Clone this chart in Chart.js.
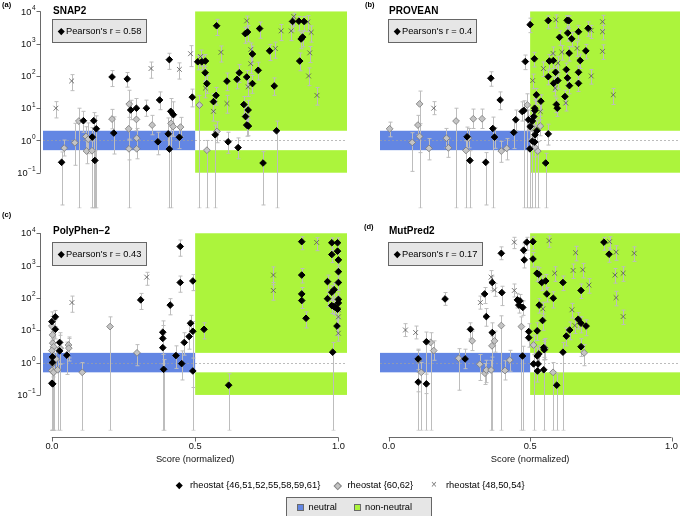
<!DOCTYPE html>
<html>
<head>
<meta charset="utf-8">
<script src="https://cdn.jsdelivr.net/npm/chart.js@4.4.1/dist/chart.umd.min.js"></script>
<style>
  html, body { margin: 0; padding: 0; background: #fff; }
  #page { position: relative; width: 685px; height: 516px; overflow: hidden; font-family: "Liberation Sans", Arial, Helvetica, sans-serif; color: #000; }
  #page canvas { position: absolute; left: 0; top: 0; }
  .abs { position: absolute; white-space: nowrap; }
  .tag { font-size: 7.5px; font-weight: bold; line-height: 10px; }
  .title { font-size: 10px; font-weight: bold; line-height: 12px; }
  .rbox { background: #e6e6e6; border: 1px solid #666; box-sizing: border-box; height: 24px; font-size: 9.3px; line-height: 22px; padding-left: 13px; }
  .dia { position: absolute; width: 4.5px; height: 4.5px; transform: rotate(45deg); }
  .leg { font-size: 9.3px; line-height: 12px; }
  .sq { position: absolute; width: 7px; height: 7px; border: 1px solid #6a6a6a; box-sizing: border-box; }
</style>
</head>
<body>
<div id="page">
  <canvas id="chart-a" width="685" height="516"></canvas>
  <canvas id="chart-b" width="685" height="516"></canvas>
  <canvas id="chart-c" width="685" height="516"></canvas>
  <canvas id="chart-d" width="685" height="516"></canvas>
  <div id="overlay"></div>
</div>
<script>
// ---- data (score normalized, fold change, lower, upper) ----
const SERIES_LABELS = ['rheostat {46,51,52,55,58,59,61}', 'rheostat {60,62}', 'rheostat {48,50,54}'];
const ZONE_LABELS = ['neutral', 'non-neutral'];
const PANEL_TAGS = ['(a)', '(b)', '(c)', '(d)'];
const PANEL_TITLES = ['SNAP2', 'PROVEAN', 'PolyPhen\u22122', 'MutPred2'];
const PEARSON_R = ['0.58', '0.4', '0.43', '0.17'];
const X_TICKS = [0, 0.5, 1];
const X_TICK_LABELS = ['0.0', '0.5', '1.0'];
const Y_TICK_EXPONENTS = [-1, 0, 1, 2, 3, 4];
const X_TITLE = 'Score (normalized)';

const THRESHOLD = 0.5;
const NEUTRAL_BAND = [0.5, 2];
const NON_NEUTRAL_HIGH = [2, 10000];
const NON_NEUTRAL_LOW = [0.1, 0.5];

const snap2Rheo46 = [
  [0.034,0.21,0.01,0.44],[0.11,4.1,1.8,8],[0.141,1.27,0.008,2.5],[0.146,4.1,0.008,7.3],[0.15,0.24,0.008,0.48],
  [0.155,2.3,0.008,5.8],[0.21,93,47,147],[0.216,1.7,0.38,5.4],[0.263,81,45,128],[0.275,8.8,4.4,17.6],
  [0.295,10,5,20],[0.33,10,5.6,17.8],[0.37,0.91,0.36,1.8],[0.376,18,9,32],[0.41,320,160,505],
  [0.406,1.6,0.5,5],[0.41,0.54,0.008,1.35],[0.415,8,0.008,20],[0.424,6.3,2.5,15.8],[0.445,1.26,0.56,2.5],
  [0.49,22,11,39],[0.509,275,155,435],[0.523,275,155,435],[0.536,290,163,460],[0.535,126,71,200],
  [0.541,58,29,103],[0.564,16,8,28],[0.573,25,12.5,44],[0.575,3600,1800,5700],[0.57,1.5,0.008,3],
  [0.611,69,35,123],[0.615,0.91,0.4,1.8],[0.646,79,40,140],[0.654,126,63,224],[0.65,0.6,0.27,1.2],
  [0.67,13,6.5,23],[0.676,5.5,2.5,11],[0.68,3.0,1.35,6],[0.686,2.8,1.4,5.6],[0.685,8.8,4.4,17.6],
  [0.68,93,47,147],[0.675,2050,1030,3250],[0.683,2300,1150,3650],[0.7,480,240,850],[0.7,58,29,103],
  [0.72,150,75,267],[0.725,2950,1480,4680],[0.737,0.2,0.01,0.45],[0.76,600,300,950],[0.776,49,25,87],
  [0.784,2.0,0.008,4],[0.84,4900,2450,6900],[0.862,5000,2500,7000],[0.88,4900,2450,6900],[0.865,290,145,515],
  [0.87,1400,700,2200],[0.875,1600,800,2500]
];
const snap2Rheo60 = [
  [0.043,0.58,0.33,1.03],[0.08,0.85,0.17,3.4],[0.094,4,0.008,10],[0.119,1.33,0.53,2.66],[0.127,1.1,0.39,3.5],
  [0.121,0.47,0.19,0.94],[0.14,0.48,0.008,0.96],[0.21,4.6,2.3,9.2],[0.27,13.4,0.008,36],[0.268,2.3,1.03,5.2],
  [0.269,0.55,0.25,1.1],[0.295,4.5,2,9],[0.296,1.18,0.53,2.36],[0.296,0.55,0.27,1.1],[0.35,3.0,1.5,6],
  [0.416,3.4,1.5,6.8],[0.423,2.7,1.35,5.4],[0.449,2.6,1.3,5.2],[0.515,12.5,0.008,25],[0.541,0.5,0.008,1],
  [0.576,1.9,0.85,3.8]
];
const snap2Rheo48 = [
  [0.014,10,5,16],[0.069,70,35,110],[0.346,170,85,270],[0.445,160,80,255],[0.484,490,195,870],
  [0.519,400,200,635],[0.536,42,21,67],[0.564,8,4,16],[0.59,540,270,850],[0.611,14,7,25],
  [0.68,5100,2550,7200],[0.694,660,330,1050],[0.694,240,120,380],[0.685,46,23,82],[0.78,710,355,1120],
  [0.8,2500,1250,3950],[0.835,2500,1250,3950],[0.844,7000,3500,8800],[0.893,4700,2350,7450],[0.9,520,260,820],
  [0.905,2250,1120,3550],[0.896,100,50,178],[0.925,25,12.5,44]
];

const proveanRheo46 = [
  [0.5,3900,2200,6200],[0.564,5200,2900,7300],[0.631,5300,3000,7500],[0.637,5200,2900,7300],[0.483,280,157,445],
  [0.515,340,190,540],[0.361,85,48,135],[0.394,18,9,32],[0.604,1580,890,2500],[0.633,2150,1200,3400],
  [0.647,1420,800,2250],[0.671,2350,1320,3700],[0.705,3000,1700,4750],[0.638,510,290,810],[0.697,600,340,950],
  [0.677,300,170,475],[0.568,290,163,460],[0.582,300,170,475],[0.59,130,73,205],[0.564,95,53,150],
  [0.583,59,33,93],[0.598,72,40,114],[0.628,158,89,250],[0.632,87,49,138],[0.639,50,28,79],
  [0.671,130,73,205],[0.671,59,33,93],[0.623,23,13,36],[0.593,13,7.3,20.6],[0.596,10,5.6,15.8],
  [0.522,26,13,41],[0.538,16.5,8.3,26],[0.478,8.5,0.008,17],[0.472,7.9,4,15.8],[0.449,4.4,2,8.8],
  [0.516,10,5,20],[0.517,8.5,4.3,17],[0.513,5.5,2.8,11],[0.508,4,2,8],[0.494,4.4,2,8.8],
  [0.368,2.35,0.008,5.3],[0.374,1.27,0.57,2.5],[0.442,1.78,0.56,4.5],[0.277,1.3,0.52,2.6],[0.287,0.24,0.008,0.48],
  [0.343,0.21,0.01,0.42],[0.499,0.55,0.008,1.1],[0.508,0.95,0.008,1.9],[0.516,0.89,0.008,1.8],[0.517,1.5,0.6,3],
  [0.564,1.6,0.72,3.2],[0.555,0.2,0.008,0.4],[0.5,2.7,0.008,6],[0.524,2.0,0.9,4]
];
const proveanRheo60 = [
  [0.003,2.3,1.3,3.7],[0.109,13.6,0.008,34],[0.103,3.0,1.5,6],[0.109,1.33,0.42,3.3],[0.083,0.87,0.11,1.74],
  [0.142,0.57,0.25,1.14],[0.204,1.18,0.59,2.36],[0.211,0.59,0.3,1.18],[0.238,4.0,0.008,10],[0.273,0.49,0.008,0.98],
  [0.282,1.18,0.59,2.36],[0.299,4.7,2.35,9.4],[0.33,4.7,2.35,9.4],[0.398,0.47,0.21,0.94],[0.417,0.57,0.25,1.14],
  [0.49,12.6,0.008,28],[0.506,2.6,1.3,5.2],[0.527,0.47,0.008,0.94],[0.536,2.8,1.4,5.6],[0.517,0.62,0.31,1.24]
];
const proveanRheo48 = [
  [0.159,10,6.3,16],[0.591,5500,3100,7800],[0.631,5200,2900,7300],[0.716,2600,1460,3700],[0.756,4800,2700,7600],
  [0.756,2350,1320,3700],[0.756,580,326,920],[0.666,720,405,1140],[0.581,500,280,790],[0.612,550,310,870],
  [0.598,250,140,395],[0.547,170,96,270],[0.509,72,40,114],[0.589,42,24,67],[0.716,100,56,158],
  [0.794,26,13,41],[0.626,14.5,8.2,23],[0.536,7.9,4.4,12.5]
];

const polyphenRheo46 = [
  [0.012,26,13,41],[0.0,18.5,9.3,37],[0.012,10.7,5.4,21],[0.027,4.2,0.008,8.4],[0.027,2.3,0.92,4.6],
  [0.002,1.5,0.008,3],[0.002,1.0,0.008,2],[0.0,0.23,0.008,0.46],[0.003,0.22,0.008,0.44],[0.052,1.7,0.43,4.3],
  [0.31,87,44,138],[0.413,60,30,95],[0.448,3900,1950,6200],[0.448,300,150,475],[0.492,335,168,530],
  [0.387,8.7,0.008,19.5],[0.387,5.6,1.8,14],[0.387,2.9,0.92,7.3],[0.39,0.62,0.008,1.24],[0.433,1.65,0.66,3.3],
  [0.453,0.93,0.29,2.3],[0.462,4.2,1.7,8.4],[0.479,6.4,2.6,14.3],[0.484,16.5,8.3,29],[0.492,9.3,0.008,18.6],
  [0.492,0.55,0.17,1.38],[0.531,10.7,5.4,17],[0.617,0.2,0.008,0.45],[0.872,5500,3100,7800],[0.872,510,290,810],
  [0.872,133,75,210],[0.872,83,47,131],[0.887,23.5,11.8,37],[0.977,5100,2870,7200],[0.997,5100,2870,7200],
  [0.977,2200,1240,3500],[0.997,2800,1580,4400],[1.0,1500,845,2370],[1.0,650,365,1030],[0.962,320,180,505],
  [1.0,300,170,475],[0.962,95,53,150],[0.977,150,84,237],[0.985,180,101,285],[0.977,58,33,92],
  [0.984,55,31,87],[0.99,50,28,79],[1.0,90,51,142],[1.0,70,39,111],[0.997,45,25,71],
  [0.995,13.5,6.8,21],[0.98,2.1,0.008,4.2]
];
const polyphenRheo60 = [
  [0.0,13.5,5.4,27],[0.002,7.2,2.9,14.4],[0.003,4.0,0.008,8],[0.006,3.1,1.24,6.2],[0.0,2.35,0.008,4.7],
  [0.003,1.36,0.008,2.7],[0.003,0.91,0.36,1.82],[0.0,0.57,0.008,1.14],[0.006,0.5,0.008,1],[0.015,1.3,0.52,2.6],
  [0.02,0.6,0.008,1.2],[0.029,2.8,0.89,7],[0.058,3.5,1.4,6.2],[0.059,2.8,1.12,5.6],[0.106,0.5,0.008,1],
  [0.203,13,0.008,26],[0.297,2.0,0.8,3.6]
];
const polyphenRheo48 = [
  [0.07,72,36,114],[0.331,440,246,620],[0.773,510,255,910],[0.773,170,85,300],[0.924,5200,2900,7300],
  [1.0,43,24,68],[1.0,26,14.6,41],[1.0,8.1,4.6,12.8]
];

const mutpredRheo46 = [
  [0.104,1.3,0.008,2.6],[0.104,0.25,0.125,0.5],[0.133,4.4,0.008,8.8],[0.133,0.22,0.11,0.44],[0.199,93,59,147],
  [0.27,1.3,0.65,2.6],[0.289,10.7,5.4,17],[0.339,133,67,210],[0.345,26.5,13.3,47],[0.366,8.5,0.008,17],
  [0.366,300,168,475],[0.398,2400,1520,3800],[0.4,146,58,230],[0.473,1.6,0.008,3.2],[0.477,3000,1690,4750],
  [0.479,1500,845,2370],[0.488,5300,3000,7500],[0.51,5500,3100,7800],[0.51,1600,900,2530],[0.455,87,49,138],
  [0.464,81,46,128],[0.46,60,34,95],[0.474,51,29,81],[0.495,9.1,4.6,16],[0.495,5.9,3,10.5],
  [0.524,580,326,920],[0.53,540,304,855],[0.541,300,169,475],[0.555,335,188,530],[0.559,133,75,210],
  [0.532,60,34,95],[0.544,20,10,32],[0.525,9.6,4.8,17],[0.548,2.9,1.45,5.2],[0.55,2.5,1.25,4.5],
  [0.531,1.85,0.93,3.3],[0.525,1.6,0.8,2.85],[0.512,0.91,0.008,1.82],[0.528,0.91,0.46,1.62],[0.526,0.55,0.25,1.1],
  [0.548,0.6,0.008,1.2],[0.594,0.2,0.008,0.45],[0.582,98,49,155],[0.616,300,169,475],[0.68,170,96,270],
  [0.68,3.1,1.55,5.5],[0.628,6.6,3.3,11.7],[0.64,10.2,5.1,18],[0.67,22,11,35],[0.68,16.5,8.3,26],
  [0.698,13.5,6.8,21],[0.616,2.1,0.008,4.2],[0.761,5300,3000,7500],[0.779,2250,1270,3560]
];
const mutpredRheo60 = [
  [0.105,1.2,0.6,2.4],[0.115,0.5,0.008,1],[0.148,4.2,0.008,8.4],[0.159,2.35,1.18,4.7],[0.247,1.36,0.14,2.7],
  [0.295,4.7,2.35,9.4],[0.322,0.89,0.28,1.78],[0.34,0.47,0.21,0.94],[0.345,0.59,0.24,1.18],[0.362,0.59,0.008,1.18],
  [0.365,3.3,1.48,6.6],[0.374,4.7,2.1,9.4],[0.398,14,0.008,28],[0.411,0.57,0.29,1.14],[0.428,1.2,0.54,2.4],
  [0.469,13,0.008,26],[0.512,3.5,1.75,7],[0.552,2.8,1.25,5.6],[0.581,0.5,0.008,1],[0.691,2.0,0.8,3.6]
];
const mutpredRheo48 = [
  [0.059,10.2,6.4,16],[0.095,8.5,5.4,13.5],[0.324,72,45,114],[0.362,440,278,700],[0.374,177,112,280],
  [0.444,5300,3350,7500],[0.444,170,107,270],[0.567,5900,3700,8300],[0.587,580,326,920],[0.545,46,26,73],
  [0.652,710,400,1120],[0.686,740,416,1170],[0.661,2500,1400,3950],[0.708,250,140,395],[0.648,43,24,68],
  [0.658,14,7.9,22],[0.781,5500,3100,7800],[0.804,2600,1460,4100],[0.8,510,287,810],[0.829,580,326,920],
  [0.804,102,57,161],[0.829,26.5,15,42],[0.868,2400,1350,3800]
];

// ---- layout / style ----
const W = 685, H = 516;
const BLUE = '#6386e3';
const GREEN = '#acf43c';

const panels = [
  { id: 'chart-a', area: { left: 43, top: 4.5, right: 347, bottom: 208.2 }, series: [snap2Rheo46, snap2Rheo60, snap2Rheo48], yAxis: true, xAxis: false,
    tag: [2, 0], title: [53, 5], box: [52, 19, 95] },
  { id: 'chart-b', area: { left: 380, top: 4.5, right: 685, bottom: 208.2 }, series: [proveanRheo46, proveanRheo60, proveanRheo48], yAxis: false, xAxis: false,
    tag: [365, 0], title: [389, 5], box: [388, 19, 89] },
  { id: 'chart-c', area: { left: 43, top: 226.8, right: 347, bottom: 430.5 }, series: [polyphenRheo46, polyphenRheo60, polyphenRheo48], yAxis: true, xAxis: true,
    tag: [2, 210], title: [53, 225], box: [52, 242, 95] },
  { id: 'chart-d', area: { left: 380, top: 226.8, right: 685, bottom: 430.5 }, series: [mutpredRheo46, mutpredRheo60, mutpredRheo48], yAxis: false, xAxis: true,
    tag: [364, 222], title: [389, 225], box: [388, 242, 95] }
];

const FONT = '"Liberation Sans", Arial, sans-serif';

// zones, reference line and error bars under the points
const decorPlugin = {
  id: 'decor',
  beforeDatasetsDraw(chart) {
    const { ctx, chartArea: a, scales: { x, y } } = chart;
    const px = (v) => x.getPixelForValue(v);
    const py = (v) => y.getPixelForValue(v);
    ctx.save();
    ctx.beginPath();
    ctx.rect(a.left, a.top, a.right - a.left, a.bottom - a.top);
    ctx.clip();

    ctx.fillStyle = GREEN;
    ctx.fillRect(px(THRESHOLD), py(NON_NEUTRAL_HIGH[1]), a.right - px(THRESHOLD), py(NON_NEUTRAL_HIGH[0]) - py(NON_NEUTRAL_HIGH[1]));
    ctx.fillRect(px(THRESHOLD), py(NON_NEUTRAL_LOW[1]), a.right - px(THRESHOLD), py(NON_NEUTRAL_LOW[0]) - py(NON_NEUTRAL_LOW[1]));
    ctx.fillStyle = BLUE;
    ctx.fillRect(a.left, py(NEUTRAL_BAND[1]), px(THRESHOLD) - a.left, py(NEUTRAL_BAND[0]) - py(NEUTRAL_BAND[1]));

    // fold change = 1
    ctx.strokeStyle = '#a0a0a0';
    ctx.lineWidth = 0.7;
    ctx.setLineDash([2, 2]);
    ctx.beginPath();
    ctx.moveTo(a.left, Math.round(py(1)) + 0.5);
    ctx.lineTo(a.right, Math.round(py(1)) + 0.5);
    ctx.stroke();
    ctx.setLineDash([]);

    // error bars
    ctx.strokeStyle = '#bdbdbd';
    ctx.lineWidth = 1;
    chart.data.datasets.forEach((ds) => {
      ds.data.forEach((p) => {
        const cx = Math.round(px(p.x)) + 0.5;
        const lo = py(p.lo), hi = py(p.hi);
        ctx.beginPath();
        ctx.moveTo(cx, lo); ctx.lineTo(cx, hi);
        ctx.moveTo(cx - 2, hi); ctx.lineTo(cx + 2, hi);
        ctx.moveTo(cx - 2, lo); ctx.lineTo(cx + 2, lo);
        ctx.stroke();
      });
    });
    ctx.restore();
  },
  afterDraw(chart, args, opts) {
    const { ctx, chartArea: a, scales: { x, y } } = chart;
    ctx.save();
    ctx.strokeStyle = '#444';
    ctx.fillStyle = '#111';
    ctx.lineWidth = 0.8;

    if (opts.yAxis) {
      const ax = a.left - 2.5;
      const top = y.getPixelForValue(Math.pow(10, Y_TICK_EXPONENTS[Y_TICK_EXPONENTS.length - 1]));
      const bot = y.getPixelForValue(Math.pow(10, Y_TICK_EXPONENTS[0]));
      ctx.beginPath();
      ctx.moveTo(ax, top); ctx.lineTo(ax, bot);
      Y_TICK_EXPONENTS.forEach((e) => {
        const ty = Math.round(y.getPixelForValue(Math.pow(10, e))) + 0.5;
        ctx.moveTo(ax, ty); ctx.lineTo(ax - 4, ty);
      });
      ctx.stroke();
      ctx.textAlign = 'right';
      ctx.textBaseline = 'middle';
      Y_TICK_EXPONENTS.forEach((e) => {
        const ty = y.getPixelForValue(Math.pow(10, e));
        const exp = e < 0 ? '\u2212' + (-e) : String(e);
        ctx.font = '6.5px ' + FONT;
        const ew = ctx.measureText(exp).width;
        ctx.fillText(exp, ax - 5, ty - 3.5);
        ctx.font = '9.3px ' + FONT;
        ctx.fillText('10', ax - 5.5 - ew, ty + 0.5);
      });
    }

    if (opts.xAxis) {
      const ay = Math.round(a.bottom + 6) + 0.5;
      const x0 = x.getPixelForValue(X_TICKS[0]);
      const x1 = x.getPixelForValue(X_TICKS[X_TICKS.length - 1]);
      ctx.beginPath();
      ctx.moveTo(x0, ay); ctx.lineTo(x1, ay);
      X_TICKS.forEach((t) => {
        const tx = Math.round(x.getPixelForValue(t)) + 0.5;
        ctx.moveTo(tx, ay); ctx.lineTo(tx, ay + 4);
      });
      ctx.stroke();
      ctx.font = '9.3px ' + FONT;
      ctx.textAlign = 'center';
      ctx.textBaseline = 'middle';
      X_TICKS.forEach((t, i) => ctx.fillText(X_TICK_LABELS[i], x.getPixelForValue(t), ay + 9));
      ctx.fillText(X_TITLE, x.getPixelForValue(0.5), ay + 22);
    }
    ctx.restore();
  }
};

function toPoints(rows) {
  return rows.map((r) => ({ x: r[0], y: r[1], lo: r[2], hi: r[3] }));
}

function makePanel(p) {
  const a = p.area;
  return new Chart(document.getElementById(p.id), {
    type: 'scatter',
    data: {
      datasets: [
        { label: SERIES_LABELS[0], data: toPoints(p.series[0]), pointStyle: 'rectRot', pointRadius: 3.3, backgroundColor: '#000', borderColor: '#000', borderWidth: 1 },
        { label: SERIES_LABELS[1], data: toPoints(p.series[1]), pointStyle: 'rectRot', pointRadius: 3.4, backgroundColor: '#c4c4c4', borderColor: '#777', borderWidth: 0.8 },
        { label: SERIES_LABELS[2], data: toPoints(p.series[2]), pointStyle: 'crossRot', pointRadius: 3.4, backgroundColor: 'rgba(0,0,0,0)', borderColor: '#555', borderWidth: 0.8 }
      ]
    },
    options: {
      responsive: false,
      animation: false,
      devicePixelRatio: 1,
      events: [],
      layout: { padding: { left: a.left, top: a.top, right: W - a.right, bottom: H - a.bottom } },
      plugins: {
        legend: { display: false },
        tooltip: { enabled: false },
        decor: { yAxis: p.yAxis, xAxis: p.xAxis }
      },
      scales: {
        x: { type: 'linear', min: -0.031, max: 1.03, display: false },
        y: { type: 'logarithmic', min: Math.pow(10, -2.1), max: Math.pow(10, 4.2), display: false }
      }
    },
    plugins: [decorPlugin]
  });
}

panels.forEach(makePanel);

// ---- text overlays ----
const overlay = document.getElementById('overlay');
function add(html, cls, left, top, extra) {
  const el = document.createElement('div');
  el.className = 'abs ' + cls;
  el.style.left = left + 'px';
  el.style.top = top + 'px';
  if (extra) Object.assign(el.style, extra);
  el.innerHTML = html;
  overlay.appendChild(el);
  return el;
}

panels.forEach((p, i) => {
  add(PANEL_TAGS[i], 'tag', p.tag[0], p.tag[1]);
  add(PANEL_TITLES[i], 'title', p.title[0], p.title[1]);
  const box = add("Pearson's r = " + PEARSON_R[i], 'rbox', p.box[0], p.box[1], { width: p.box[2] + 'px' });
  const d = document.createElement('span');
  d.className = 'dia';
  Object.assign(d.style, { left: '5.5px', top: '8.5px', background: '#000' });
  box.appendChild(d);
});

// series legend
const legRowY = 479;
add('', 'dia', 177, legRowY + 3.5, { background: '#000' });
add(SERIES_LABELS[0], 'leg', 190, legRowY);
add('', 'dia', 335, legRowY + 4, { background: '#c4c4c4', border: '0.5px solid #888', width: '3.5px', height: '3.5px' });
add(SERIES_LABELS[1], 'leg', 347.5, legRowY);
add('\u00d7', 'leg', 431, legRowY, { color: '#777', fontSize: '10px' });
add(SERIES_LABELS[2], 'leg', 446, legRowY);

// zone legend
add('', '', 286, 497, { width: '146px', height: '20px', background: '#e6e6e6', border: '1px solid #666', boxSizing: 'border-box' });
add('', 'sq', 296.5, 503.5, { background: BLUE });
add(ZONE_LABELS[0], 'leg', 308.5, 501);
add('', 'sq', 353.5, 503.5, { background: GREEN });
add(ZONE_LABELS[1], 'leg', 365, 501);
</script>
</body>
</html>
